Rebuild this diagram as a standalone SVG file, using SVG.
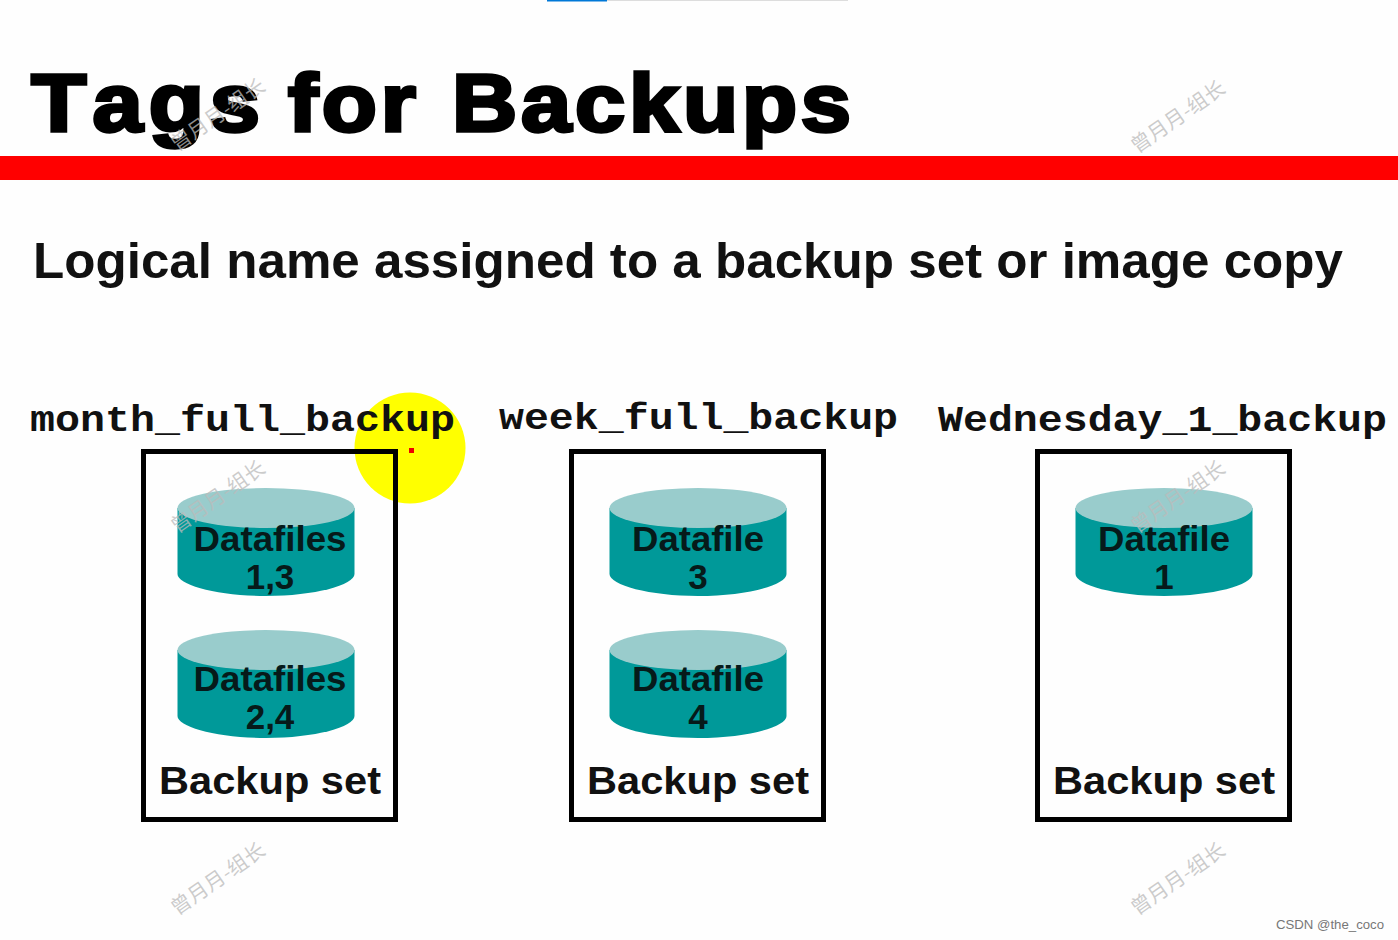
<svg xmlns="http://www.w3.org/2000/svg" width="1398" height="940" viewBox="0 0 1398 940">
<style>
.s{font-family:"Liberation Sans",Arial,sans-serif;fill:#000}
.b{font-weight:bold}
.t{font-size:82px;stroke:#000;stroke-width:3.500px;letter-spacing:3.500px;font-kerning:none}
.sub{font-size:50px;fill:#111}
.m{font-family:"Liberation Mono","Courier New",monospace;font-weight:bold;font-size:36px;fill:#111}
.c{font-size:35px;text-anchor:middle;fill:#061a1a;font-weight:bold}
.bs{font-size:39px;fill:#111}
.box{fill:none;stroke:#000;stroke-width:5}
.w{font-family:"Noto Sans CJK SC",sans-serif;font-size:20.500px;fill:#bbb;fill-opacity:.75}
.body{fill:#009999}
.top{fill:#99cccc}
</style>
<defs>
<g id="cyl">
<path class="body" d="M0 20V86C0 97 40 108 88.500 108S177 97 177 86V20Z"/>
<ellipse class="top" cx="88.500" cy="20" rx="88.500" ry="20"/>
</g>
</defs>
<rect width="1398" height="940" fill="#fefefe"/>
<rect x="547" y="0" width="60" height="1.500" fill="#0078d7"/>
<rect x="607" y="0" width="241" height="1" fill="#ddd"/>
<g id="title">
<text class="s b t" y="131" transform="scale(1.1 1)"><tspan x="28.500" style="letter-spacing:5.500px">Tags</tspan> <tspan x="261.800">for</tspan> <tspan x="410.900">Backups</tspan></text>
<rect x="0" y="156" width="1398" height="24" fill="#f00"/>
</g>
<text class="s b sub" x="33" y="278" textLength="1310" lengthAdjust="spacingAndGlyphs">Logical name assigned to a backup set or image copy</text>
<circle cx="410" cy="448" r="55.500" fill="#ff0"/>
<rect x="409" y="448" width="5" height="5" fill="#e00"/>
<text class="m" x="30" y="431" textLength="425" lengthAdjust="spacingAndGlyphs">month_full_backup</text>
<text class="m" x="499" y="429" textLength="399" lengthAdjust="spacingAndGlyphs">week_full_backup</text>
<text class="m" x="938" y="431" textLength="449" lengthAdjust="spacingAndGlyphs">Wednesday_1_backup</text>
<g id="set1">
<rect class="box" x="143.500" y="451.500" width="252" height="368"/>
<text class="s b bs" x="159" y="794" textLength="222" lengthAdjust="spacingAndGlyphs">Backup set</text>
</g>
<g id="set1-a"><use href="#cyl" x="177.500" y="488"/>
<text class="s c" x="270" y="551" textLength="153" lengthAdjust="spacingAndGlyphs">Datafiles</text><text class="s c" x="270" y="589">1,3</text></g>
<g id="set1-b"><use href="#cyl" x="177.500" y="630"/>
<text class="s c" x="270" y="691" textLength="153" lengthAdjust="spacingAndGlyphs">Datafiles</text><text class="s c" x="270" y="729">2,4</text></g>
<g id="set2">
<rect class="box" x="571.500" y="451.500" width="252" height="368"/>
<text class="s b bs" x="587" y="794" textLength="222" lengthAdjust="spacingAndGlyphs">Backup set</text>
</g>
<g id="set2-a"><use href="#cyl" x="609.500" y="488"/>
<text class="s c" x="698" y="551" textLength="132" lengthAdjust="spacingAndGlyphs">Datafile</text><text class="s c" x="698" y="589">3</text></g>
<g id="set2-b"><use href="#cyl" x="609.500" y="630"/>
<text class="s c" x="698" y="691" textLength="132" lengthAdjust="spacingAndGlyphs">Datafile</text><text class="s c" x="698" y="729">4</text></g>
<g id="set3">
<rect class="box" x="1037.500" y="451.500" width="252" height="368"/>
<text class="s b bs" x="1053" y="794" textLength="222" lengthAdjust="spacingAndGlyphs">Backup set</text>
</g>
<g id="set3-a"><use href="#cyl" x="1075.500" y="488"/>
<text class="s c" x="1164" y="551" textLength="132" lengthAdjust="spacingAndGlyphs">Datafile</text><text class="s c" x="1164" y="589">1</text></g>
<g id="connectors"></g>
<g id="watermarks">
<text class="w" transform="translate(177 152) rotate(-35)">曾月月-组长</text>
<text class="w" transform="translate(1137 154) rotate(-35)">曾月月-组长</text>
<text class="w" transform="translate(177 534) rotate(-35)">曾月月-组长</text>
<text class="w" transform="translate(1137 534) rotate(-35)">曾月月-组长</text>
<text class="w" transform="translate(177 916) rotate(-35)">曾月月-组长</text>
<text class="w" transform="translate(1137 916) rotate(-35)">曾月月-组长</text>
</g>
<text x="1276" y="929" font-family="Liberation Sans,sans-serif" font-size="13.500" fill="#777" textLength="108" lengthAdjust="spacingAndGlyphs">CSDN @the_coco</text>
</svg>
